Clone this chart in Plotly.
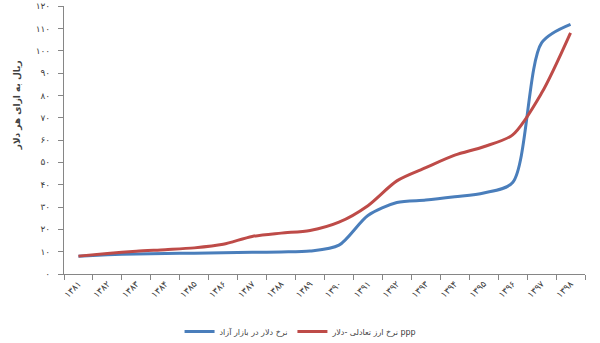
import plotly.graph_objects as go

# Persian years 1381..1398
years = ["۱۳۸۱", "۱۳۸۲", "۱۳۸۳", "۱۳۸۴", "۱۳۸۵", "۱۳۸۶", "۱۳۸۷", "۱۳۸۸", "۱۳۸۹",
         "۱۳۹۰", "۱۳۹۱", "۱۳۹۲", "۱۳۹۳", "۱۳۹۴", "۱۳۹۵", "۱۳۹۶", "۱۳۹۷", "۱۳۹۸"]

# free-market dollar rate
free_market = [8.0, 8.6, 9.0, 9.2, 9.3, 9.5, 9.7, 9.9, 10.3,
               12.9, 26.2, 32.0, 33.1, 34.6, 36.3, 41.0, 103.5, 111.8]

# equilibrium (PPP) dollar rate
ppp_rate = [8.0, 9.2, 10.2, 10.9, 11.7, 13.3, 16.8, 18.3, 19.5,
            23.2, 30.6, 41.7, 47.6, 53.2, 57.0, 62.3, 81.0, 108.0]

y_ticks = list(range(0, 121, 10))
y_tick_text = ["۰", "۱۰", "۲۰", "۳۰", "۴۰", "۵۰", "۶۰", "۷۰", "۸۰", "۹۰", "۱۰۰", "۱۱۰", "۱۲۰"]

BLUE = "#4A7EBB"
RED = "#BE4B48"
AXIS = "#868686"
FONT = "DejaVu Sans, Noto Sans, sans-serif"

fig = go.Figure()
fig.add_trace(go.Scatter(
    x=years, y=free_market, mode="lines", name="نرخ دلار در بازار آزاد",
    line=dict(color=BLUE, width=3, shape="spline", smoothing=0.8),
))
fig.add_trace(go.Scatter(
    x=years, y=ppp_rate, mode="lines", name="نرخ ارز تعادلی -دلار ppp",
    line=dict(color=RED, width=3, shape="spline", smoothing=0.8),
))

fig.update_layout(
    width=600, height=343,
    margin=dict(l=64, r=15, t=6, b=69, autoexpand=False),
    paper_bgcolor="white", plot_bgcolor="white",
    font=dict(family=FONT, size=9, color="#404040"),
    showlegend=True,
    legend=dict(orientation="h", x=0.455, xanchor="center", y=-0.215, yanchor="middle",
                font=dict(size=8, color="#404040"), itemwidth=30),
    annotations=[dict(
        text="<b>ریال به ازای هر دلار</b>", xref="paper", yref="paper",
        x=-0.09, y=0.63, xanchor="center", yanchor="middle", textangle=-90,
        showarrow=False, font=dict(size=9, color="#404040"),
    )],
)
fig.update_xaxes(
    type="category", tickangle=-45, tickson="boundaries", ticks="outside", ticklen=5,
    tickcolor=AXIS, showline=True, linecolor=AXIS, linewidth=1, showgrid=False,
    tickfont=dict(size=9), range=[-0.5, 17.5], automargin=False,
)
fig.update_yaxes(
    range=[0, 120.01], tickvals=y_ticks, ticktext=y_tick_text, ticks="outside", ticklen=5,
    tickcolor=AXIS, showline=True, linecolor=AXIS, linewidth=1, showgrid=False,
    zeroline=False, tickfont=dict(size=9), ticklabelstandoff=6,
    ticklabeloverflow="allow", automargin=False,
)

fig.write_html("out.html")
